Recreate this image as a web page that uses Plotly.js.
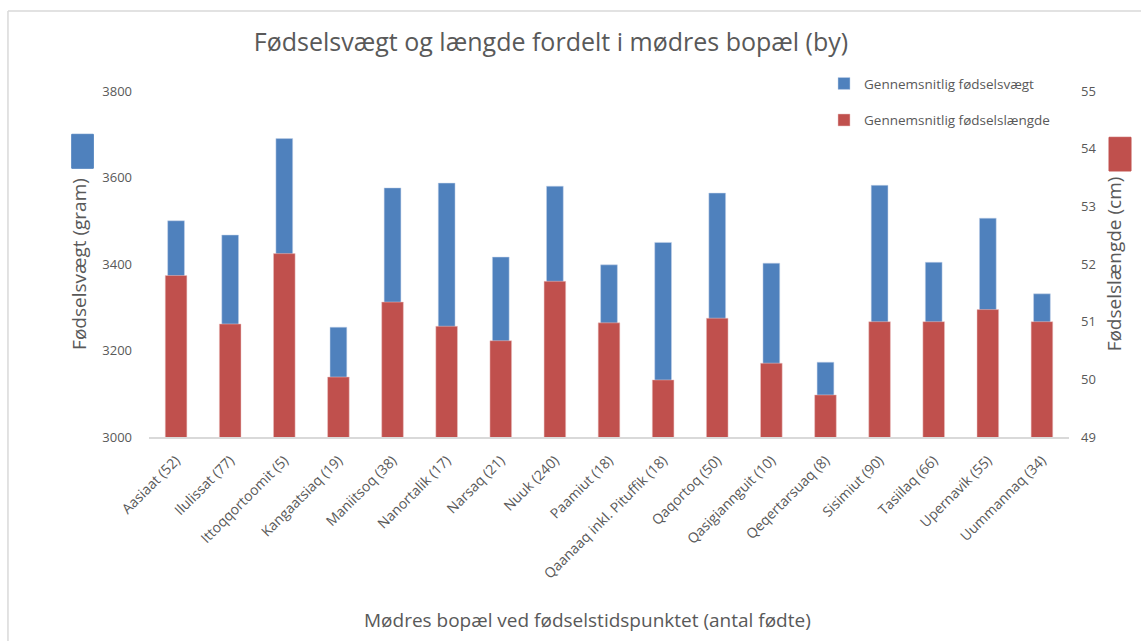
<!DOCTYPE html>
<html>
<head>
<meta charset="utf-8">
<script src="https://cdn.plot.ly/plotly-3.0.1.min.js"></script>
<style>
  body { margin: 0; background: #fff; }
  #chart { width: 1141px; height: 641px; }
</style>
</head>
<body>
<div id="chart"></div>
<script>
'use strict'
var towns = ['Aasiaat (52)', 'Ilulissat (77)', 'Ittoqqortoomit (5)', 'Kangaatsiaq (19)', 'Maniitsoq (38)',
  'Nanortalik (17)', 'Narsaq (21)', 'Nuuk (240)', 'Paamiut (18)', 'Qaanaaq inkl. Pituffik (18)',
  'Qaqortoq (50)', 'Qasigiannguit (10)', 'Qeqertarsuaq (8)', 'Sisimiut (90)', 'Tasiilaq (66)',
  'Upernavik (55)', 'Uummannaq (34)'];
var weight = [3500, 3467, 3690, 3254, 3576, 3587, 3416, 3580, 3398, 3450, 3564, 3402, 3173, 3582, 3404, 3506, 3331];
var length = [51.80, 50.96, 52.18, 50.04, 51.34, 50.92, 50.67, 51.70, 50.98, 49.99, 51.06, 50.28, 49.73, 51.0, 51.0, 51.21, 51.0];

var textColor = '#595959';
var fontFam = '"Open Sans", "Noto Sans", sans-serif';

var weightTrace = {
  type: 'bar',
  name: 'Gennemsnitlig fødselsvægt',
  x: towns,
  y: weight,
  width: 0.31,
  legendgroup: 'a',
  marker: {color: '#4f81bd', line: {color: '#c6d5ea', width: 0.5}},
  yaxis: 'y'
};

var lengthTrace = {
  type: 'bar',
  name: 'Gennemsnitlig fødselslængde',
  x: towns,
  y: length,
  width: 0.4,
  legendgroup: 'b',
  marker: {color: '#c0504d', line: {color: '#ecc7c6', width: 0.5}},
  yaxis: 'y2'
};

var layout = {
  width: 1141,
  height: 641,
  margin: {l: 149, r: 72, t: 91, b: 204, pad: 0},
  paper_bgcolor: '#fff',
  plot_bgcolor: '#fff',
  font: {family: fontFam, color: textColor, size: 12},
  barmode: 'overlay',
  title: {
    text: 'Fødselsvægt og længde fordelt i mødres bopæl (by)',
    font: {size: 25, color: textColor, family: fontFam},
    x: 551 / 1141, xanchor: 'center', y: 1 - 42 / 641, yanchor: 'middle'
  },
  xaxis: {
    tickangle: -45,
    tickfont: {size: 14, color: textColor},
    ticklabelstandoff: 8,
    showgrid: false,
    showline: true,
    linecolor: '#d9d9d9',
    linewidth: 1.5,
    ticks: ''
  },
  yaxis: {
    range: [3000, 3800],
    dtick: 200,
    showgrid: false,
    zeroline: false,
    ticks: '',
    tickfont: {size: 13, color: textColor},
    ticklabelstandoff: 16,
    title: {text: 'Fødselsvægt (gram)', font: {size: 19, color: textColor}, standoff: 10}
  },
  yaxis2: {
    range: [49, 55],
    dtick: 1,
    overlaying: 'y',
    side: 'right',
    showgrid: false,
    zeroline: false,
    ticks: '',
    tickfont: {size: 13, color: textColor},
    ticklabelstandoff: 11,
    title: {text: 'Fødselslængde (cm)', font: {size: 19, color: textColor}, standoff: 12}
  },
  annotations: [
    {text: 'Mødres bopæl ved fødselstidspunktet (antal fødte)', xref: 'paper', yref: 'paper',
      x: (587 - 149) / 920, y: (437 - 620) / 346, xanchor: 'center', yanchor: 'middle',
      showarrow: false, font: {size: 19, color: textColor}}
  ],
  showlegend: true,
  legend: {
    x: 0.7337, y: 1.066, xanchor: 'left', yanchor: 'top',
    tracegroupgap: 16,
    traceorder: 'grouped',
    font: {size: 13.5, color: textColor},
    bgcolor: 'rgba(0,0,0,0)',
    itemwidth: 30
  },
  shapes: [
    // outer chart frame (top and left edges visible)
    {type: 'line', xref: 'paper', yref: 'paper', x0: -0.1533, x1: 1.2, y0: 1.2312, y1: 1.2312,
      line: {color: '#d9d9d9', width: 1.5}},
    {type: 'line', xref: 'paper', yref: 'paper', x0: -0.1533, x1: -0.1533, y0: 1.2312, y1: -0.7,
      line: {color: '#d9d9d9', width: 1.5}},
    // coloured blocks beside the axis titles
    {type: 'rect', xref: 'paper', yref: 'paper', x0: -0.0840, x1: -0.0605, y0: 0.7766, y1: 0.8749,
      fillcolor: '#4f81bd', line: {color: '#4f81bd', width: 1}},
    {type: 'rect', xref: 'paper', yref: 'paper', x0: 1.0435, x1: 1.0674, y0: 0.7688, y1: 0.8662,
      fillcolor: '#c0504d', line: {color: '#c0504d', width: 1}}
  ]
};

Plotly.newPlot('chart', [weightTrace, lengthTrace], layout, {displayModeBar: false});
</script>
</body>
</html>
